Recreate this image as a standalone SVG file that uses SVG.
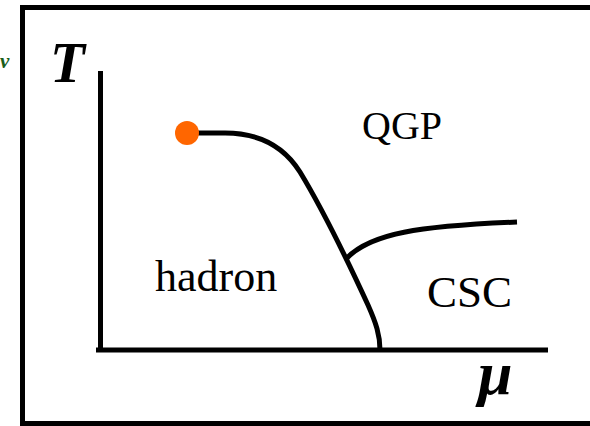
<svg xmlns="http://www.w3.org/2000/svg" width="590" height="426" viewBox="0 0 590 426">
<style>
.ln{fill:none;stroke:#000;stroke-width:5}
.lbl{font-family:"Liberation Serif","Times New Roman",serif;fill:#000}
.ax{font-family:"Liberation Serif","Times New Roman",serif;font-weight:bold;font-style:italic;fill:#000}
</style>
<rect width="590" height="426" fill="#fff"/>
<text x="0" y="68" font-family="Liberation Serif, serif" font-style="italic" font-weight="bold" font-size="21" fill="#1a5e1a">v</text>
<rect x="22.5" y="7.5" width="580" height="416" class="ln"/>
<g id="axes">
<line x1="100.5" y1="71" x2="100.5" y2="352" class="ln"/>
<line x1="96" y1="350" x2="548" y2="350" class="ln"/>
<text x="50" y="82" class="ax" font-size="57">T</text>
<text x="478" y="394" class="ax" font-size="62">μ</text>
</g>
<g id="connectors">
<path class="ln" d="M187,133 L225,133 C262,133 285,148 300,172 C320,205 345,255 368,305 C376,323 380,335 380,350"/>
<path class="ln" d="M346,259 C370,233 420,226 517,222"/>
</g>
<g id="critical-point"><circle cx="187" cy="133" r="12" fill="#ff6600"/></g>
<g id="qgp"><text x="362" y="139" class="lbl" font-size="40">QGP</text></g>
<g id="hadron"><text x="155" y="291" class="lbl" font-size="44">hadron</text></g>
<g id="csc"><text x="427" y="307" class="lbl" font-size="45">CSC</text></g>
</svg>
